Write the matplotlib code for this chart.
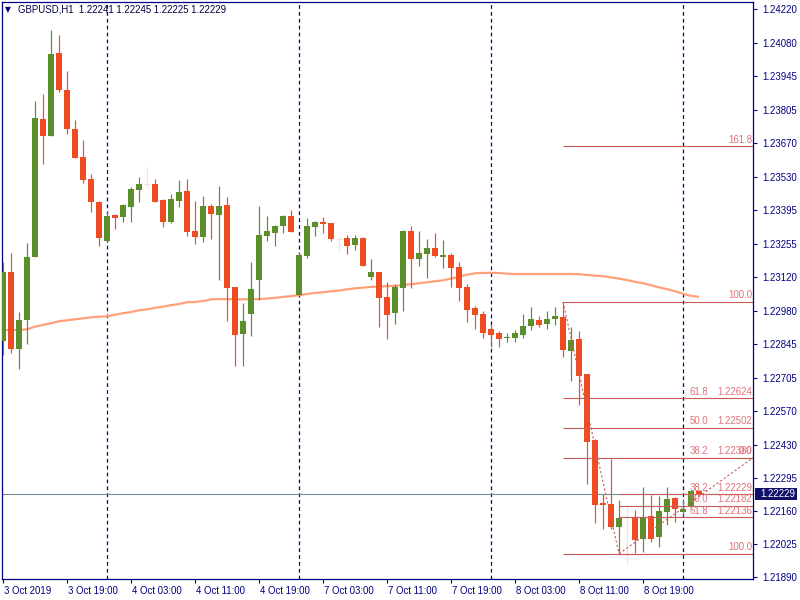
import matplotlib
matplotlib.use('Agg')
import matplotlib.pyplot as plt
from matplotlib.transforms import blended_transform_factory
import matplotlib.transforms as mtrans
from matplotlib.patches import Rectangle
import numpy as np

plt.rcParams['font.family'] = ['Liberation Sans', 'DejaVu Sans']

# ---------------- data ----------------
opens = [1.22859, 1.23140, 1.22827, 1.22946, 1.23204, 1.23769, 1.23700, 1.24040, 1.23888, 1.23728,
         1.23613, 1.23523, 1.23428, 1.23270, 1.23374, 1.23368, 1.23409, 1.23479, 1.23502, 1.23502,
         1.23437, 1.23347, 1.23434, 1.23473, 1.23309, 1.23286, 1.23412, 1.23376, 1.23416, 1.23078,
         1.22888, 1.22970, 1.23110, 1.23290, 1.23302, 1.23331, 1.23371, 1.23047, 1.23207, 1.23327,
         1.23346, 1.23342, 1.23277, 1.23281, 1.23253, 1.23281, 1.23121, 1.23141, 1.23039, 1.22974,
         1.23077, 1.23309, 1.23196, 1.23216, 1.23240, 1.23204, 1.23211, 1.23162, 1.23080, 1.22994,
         1.22969, 1.22907, 1.22891, 1.22870, 1.22872, 1.22883, 1.22920, 1.22944, 1.22928, 1.22948,
         1.22957, 1.22818, 1.22866, 1.22721, 1.22452, 1.22194, 1.22190, 1.22095, 1.22136, 1.22136,
         1.22046, 1.22140, 1.22054, 1.22157, 1.22214, 1.22157, 1.22177, 1.22241]
highs = [1.23181, 1.23218, 1.22976, 1.23260, 1.23843, 1.23871, 1.24134, 1.24113, 1.23966, 1.23765,
         1.23683, 1.23543, 1.23432, 1.23386, 1.23378, 1.23420, 1.23491, 1.23531, 1.23573, 1.23523,
         1.23439, 1.23461, 1.23519, 1.23523, 1.23432, 1.23453, 1.23421, 1.23494, 1.23449, 1.23080,
         1.23014, 1.23182, 1.23412, 1.23371, 1.23334, 1.23373, 1.23396, 1.23224, 1.23363, 1.23350,
         1.23367, 1.23343, 1.23279, 1.23293, 1.23293, 1.23283, 1.23195, 1.23143, 1.23100, 1.23092,
         1.23313, 1.23330, 1.23311, 1.23277, 1.23301, 1.23272, 1.23219, 1.23182, 1.23092, 1.23002,
         1.22981, 1.22929, 1.22899, 1.22890, 1.22903, 1.22969, 1.22998, 1.22961, 1.22981, 1.22998,
         1.23019, 1.22916, 1.22899, 1.22723, 1.22456, 1.22231, 1.22374, 1.22206, 1.22185, 1.22165,
         1.22259, 1.22226, 1.22222, 1.22259, 1.22218, 1.22210, 1.22245, 1.22245]
lows = [1.22801, 1.22808, 1.22743, 1.22847, 1.23202, 1.23584, 1.23698, 1.23881, 1.23709, 1.23608,
        1.23508, 1.23389, 1.23249, 1.23268, 1.23319, 1.23345, 1.23345, 1.23430, 1.23491, 1.23428,
        1.23327, 1.23343, 1.23409, 1.23290, 1.23257, 1.23265, 1.23278, 1.23110, 1.22941, 1.22757,
        1.22757, 1.22880, 1.23025, 1.23270, 1.23249, 1.23300, 1.23304, 1.23045, 1.23200, 1.23290,
        1.23300, 1.23270, 1.23229, 1.23216, 1.23233, 1.23165, 1.23108, 1.22917, 1.22868, 1.22929,
        1.22982, 1.23075, 1.23167, 1.23118, 1.23203, 1.23159, 1.23081, 1.23023, 1.22937, 1.22909,
        1.22872, 1.22835, 1.22835, 1.22855, 1.22855, 1.22872, 1.22903, 1.22916, 1.22907, 1.22924,
        1.22792, 1.22694, 1.22596, 1.22272, 1.22113, 1.22087, 1.22087, 1.21985, 1.21943, 1.21988,
        1.21993, 1.22034, 1.22013, 1.22103, 1.22116, 1.22144, 1.22175, 1.22225]
closes = [1.23140, 1.22824, 1.22944, 1.23203, 1.23773, 1.23700, 1.24035, 1.23889, 1.23729, 1.23610,
          1.23520, 1.23430, 1.23282, 1.23371, 1.23364, 1.23415, 1.23482, 1.23502, 1.23502, 1.23430,
          1.23347, 1.23441, 1.23469, 1.23306, 1.23286, 1.23412, 1.23380, 1.23412, 1.23077, 1.22884,
          1.22940, 1.23071, 1.23293, 1.23309, 1.23330, 1.23371, 1.23306, 1.23211, 1.23330, 1.23346,
          1.23339, 1.23278, 1.23277, 1.23249, 1.23281, 1.23167, 1.23141, 1.23036, 1.22966, 1.23081,
          1.23309, 1.23196, 1.23219, 1.23240, 1.23208, 1.23211, 1.23159, 1.23077, 1.22986, 1.22966,
          1.22892, 1.22884, 1.22868, 1.22875, 1.22891, 1.22920, 1.22948, 1.22924, 1.22948, 1.22961,
          1.22821, 1.22862, 1.22715, 1.22444, 1.22185, 1.22185, 1.22095, 1.22132, 1.22136, 1.22042,
          1.22136, 1.22046, 1.22161, 1.22210, 1.22169, 1.22169, 1.22241, 1.22229]
ma_values = [1.22903, 1.22903, 1.22903, 1.22906, 1.22917, 1.22924, 1.22931, 1.22939, 1.22943, 1.22947,
             1.22951, 1.22955, 1.22958, 1.22959, 1.22966, 1.22972, 1.22977, 1.22984, 1.22988, 1.22994,
             1.22999, 1.23005, 1.23010, 1.23017, 1.23018, 1.23022, 1.23029, 1.23030, 1.23030, 1.23029,
             1.23029, 1.23030, 1.23030, 1.23032, 1.23035, 1.23039, 1.23042, 1.23046, 1.23051, 1.23055,
             1.23058, 1.23062, 1.23065, 1.23070, 1.23074, 1.23077, 1.23080, 1.23081, 1.23083, 1.23084,
             1.23088, 1.23091, 1.23095, 1.23099, 1.23103, 1.23107, 1.23114, 1.23122, 1.23130, 1.23136,
             1.23137, 1.23138, 1.23137, 1.23134, 1.23133, 1.23133, 1.23133, 1.23133, 1.23133, 1.23133,
             1.23133, 1.23133, 1.23132, 1.23129, 1.23126, 1.23124, 1.23119, 1.23114, 1.23108, 1.23101,
             1.23095, 1.23087, 1.23078, 1.23071, 1.23062, 1.23052, 1.23043, 1.23039]

time_tick_idx = [0, 8, 16, 24, 32, 40, 48, 56, 64, 72, 80]
time_tick_labels = ['3 Oct 2019', '3 Oct 19:00', '4 Oct 03:00', '4 Oct 11:00', '4 Oct 19:00',
                    '7 Oct 03:00', '7 Oct 11:00', '7 Oct 19:00', '8 Oct 03:00', '8 Oct 11:00',
                    '8 Oct 19:00']
day_separators = [13, 37, 61, 85]
price_ticks = [1.21890, 1.22025, 1.22160, 1.22295, 1.22430, 1.22570, 1.22705, 1.22845, 1.22980,
               1.23120, 1.23255, 1.23395, 1.23530, 1.23670, 1.23805, 1.23945, 1.24080, 1.24220]
price_tick_labels = ['1.21890', '1.22025', '1.22160', '1.22295', '1.22430', '1.22570', '1.22705',
                     '1.22845', '1.22980', '1.23120', '1.23255', '1.23395', '1.23530', '1.23670',
                     '1.23805', '1.23945', '1.24080', '1.24220']
title_text = 'GBPUSD,H1  1.22241 1.22245 1.22225 1.22229'
bid_price = 1.22229
bid_label = '1.22229'

# Fibonacci 1 (from swing high bar 70 to swing low bar 77)
fib1_start = 70
fib1_anchor = [(70, 1.23019), (77, 1.21985)]
fib1_prices = [1.23658, 1.23019, 1.22624, 1.22502, 1.22380, 1.21985]
fib1_level_text = ['161.8', '100.0', '61.8', '50.0', '38.2', '']
fib1_price_text = ['', '', '1.22624', '1.22502', '1.22380', '']
# Fibonacci 2 (from low bar 77 upward)
fib2_start = 77
fib2_anchor = [(77, 1.21985), (93.75, 1.22379)]
fib2_prices = [1.22379, 1.22229, 1.22182, 1.22136, 1.21985]
fib2_level_text = ['0.0', '38.2', '50.0', '61.8', '100.0']
fib2_price_text = ['', '1.22229', '1.22182', '1.22136', '']

# ---------------- style ----------------
NAVY = '#000080'
GREEN = '#5a8f2b'
RED = '#f04c24'
DOJI = '#f3e4d4'
MA_COLOR = '#ffa07a'
FIB_LINE = '#c85a5a'
FIB_TEXT = '#e0707a'
BID = '#7f8c9a'

W, H = 800, 600
fig = plt.figure(figsize=(8, 6), dpi=100)
fig.patch.set_facecolor('white')
ax_l, ax_r, ax_t, ax_b = 2, 753, 2, 579
ax = fig.add_axes([ax_l / W, (H - ax_b) / H, (ax_r - ax_l) / W, (ax_b - ax_t) / H])
ax.set_facecolor('white')

# bar i sits at pixel 3 + 8 i ; price scale: 1.24220 at y=9, 1.21890 at y=577
ax.set_xlim((ax_l - 3) / 8.0, (ax_r - 3) / 8.0)
ppu = 568 / (1.24220 - 1.21890)
ax.set_ylim(1.24220 - (ax_b - 9) / ppu, 1.24220 + (9 - ax_t) / ppu)

o = np.array(opens); h = np.array(highs); l = np.array(lows); c = np.array(closes)
x = np.arange(len(o))
up = c > o
dn = c < o
dj = c == o
cols = np.where(up, GREEN, np.where(dn, RED, DOJI))

# day separators
for s in day_separators:
    ax.axvline(s, color=NAVY, lw=0.9, ls=(0, (3, 2.5)), zorder=1)

# moving average
ax.plot(x, ma_values, color=MA_COLOR, lw=1.6, zorder=2, solid_capstyle='butt')

# bid line
ax.axhline(bid_price, color=BID, lw=0.8, zorder=2)

# candles
ax.vlines(x, l, h, colors=cols, lw=0.85, zorder=3)
nd = ~dj
bh = np.maximum(np.abs(c - o), 0.5 / ppu)
ax.bar(x[nd], bh[nd], width=0.64, bottom=np.minimum(o, c)[nd], color=cols[nd],
       linewidth=0, zorder=4)
ax.hlines(o[dj], x[dj] - 0.32, x[dj] + 0.32, colors=DOJI, lw=0.85, zorder=4)

# fibonacci
xr = ax.get_xlim()[1]
bl = blended_transform_factory(ax.transAxes, ax.transData)


def fib_labels(prices, lvl_txt, pr_txt):
    for p, lt, pt in zip(prices, lvl_txt, pr_txt):
        if not lt:
            continue
        if pt:
            ax.annotate(lt, xy=(1, p), xycoords=bl, xytext=(-45 * 0.72, 1),
                        textcoords='offset points', ha='right', va='bottom',
                        fontsize=6.9, color=FIB_TEXT, zorder=6, annotation_clip=False)
            ax.annotate(pt, xy=(1, p), xycoords=bl, xytext=(-0.72, 1),
                        textcoords='offset points', ha='right', va='bottom',
                        fontsize=6.9, color=FIB_TEXT, zorder=6, annotation_clip=False)
        else:
            ax.annotate(lt, xy=(1, p), xycoords=bl, xytext=(-0.72, 1),
                        textcoords='offset points', ha='right', va='bottom',
                        fontsize=6.9, color=FIB_TEXT, zorder=6, annotation_clip=False)


ax.hlines(fib1_prices, fib1_start, xr, colors=FIB_LINE, lw=0.8, zorder=5)
ax.hlines(fib2_prices, fib2_start, xr, colors=FIB_LINE, lw=0.8, zorder=5)
ax.plot([a[0] for a in fib1_anchor], [a[1] for a in fib1_anchor], color=FIB_LINE, lw=0.8,
        ls=(0, (2, 2)), zorder=5)
ax.plot([a[0] for a in fib2_anchor], [a[1] for a in fib2_anchor], color=FIB_LINE, lw=0.8,
        ls=(0, (2, 2)), zorder=5)
fib_labels(fib1_prices, fib1_level_text, fib1_price_text)
fib_labels(fib2_prices, fib2_level_text, fib2_price_text)

# axes styling
for sp in ax.spines.values():
    sp.set_color(NAVY)
    sp.set_linewidth(0.9)
ax.yaxis.tick_right()
ax.set_yticks(price_ticks)
ax.set_yticklabels(price_tick_labels)
ax.set_xticks(time_tick_idx)
ax.set_xticklabels(time_tick_labels, ha='left')
ax.tick_params(axis='both', direction='out', length=3, width=0.8, color=NAVY,
               labelcolor=NAVY, labelsize=6.9)
ax.tick_params(axis='y', pad=4)
ax.tick_params(axis='x', pad=2)

offset = mtrans.ScaledTranslation(1 / 100, 0, fig.dpi_scale_trans)
for lab in ax.get_xticklabels():
    lab.set_transform(lab.get_transform() + offset)

# bid price box on the price axis
bt = blended_transform_factory(fig.transFigure, ax.transData)
box_h = 12 / ppu
ax.add_patch(Rectangle((755 / W, bid_price - box_h / 2), 42 / W, box_h, transform=bt,
                       facecolor='#10106a', edgecolor='none', clip_on=False, zorder=10))
ax.text(760 / W, bid_price, bid_label, transform=bt, color='white', fontsize=6.9,
        va='center', ha='left', zorder=11, clip_on=False)

# title
fig.text(5 / W, 1 - 10 / H, '\u25bc', fontsize=5.5, color=NAVY, va='center', ha='left',
         family=['DejaVu Sans'])
fig.text(18 / W, 1 - 10 / H, title_text, fontsize=6.9, color='#000040', va='center', ha='left')

fig.savefig('out.png', dpi=100, facecolor='white')
